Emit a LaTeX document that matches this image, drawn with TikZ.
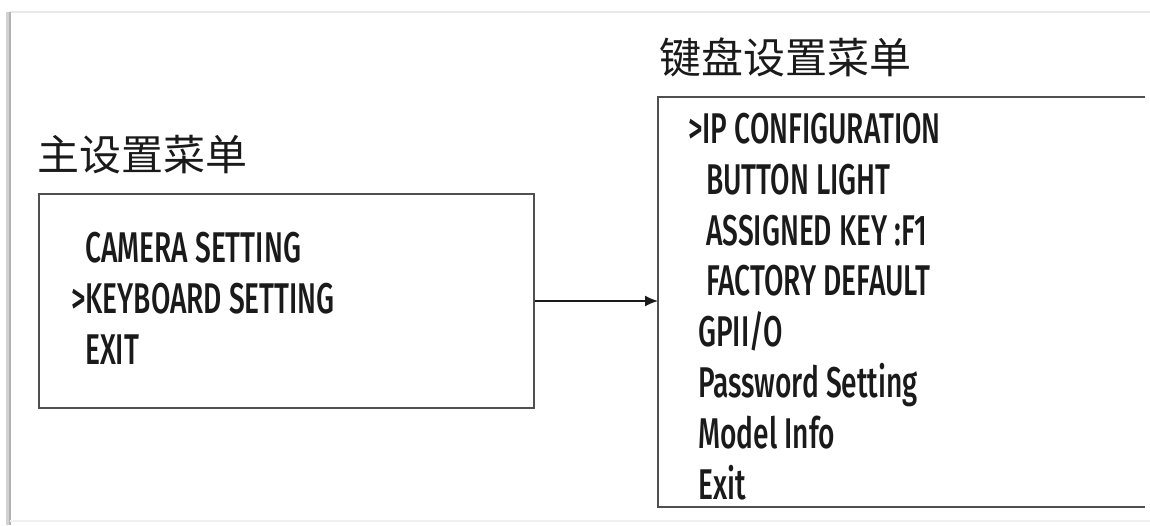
\documentclass[tikz,border=0pt]{standalone}
\usepackage{fontspec}
\usetikzlibrary{arrows.meta}
\setmainfont[FakeStretch=0.655]{Fira Sans Medium}
\newfontfamily\cjkfont{Noto Sans CJK SC}
\definecolor{ink}{HTML}{1A1A1A}
\definecolor{boxline}{HTML}{505050}
\tikzset{
  item/.style={anchor=base west, inner sep=0pt, text=ink, font=\fontsize{43}{43}\selectfont},
  title/.style={anchor=base west, inner sep=0pt, text=ink, font=\cjkfont\fontsize{42}{42}\selectfont},
  menubox/.style={draw=boxline, line width=2pt, inner sep=0pt},
  link/.style={draw=ink, line width=1.5pt, -{Latex[length=13pt,width=11pt]}},
}
\begin{document}
\begin{tikzpicture}[x=1pt,y=-1pt]
\useasboundingbox (0,0) rectangle (1150,525);
% outer frame
\draw[gray!18, line width=1.5pt] (10,12) -- (1150,12);
\draw[gray!35, line width=4pt] (8,12) -- (8,525);
\draw[gray!60, line width=1.5pt] (10,12) -- (10,525);
\draw[gray!12, line width=1.5pt] (10,521) -- (1150,521);
% titles
\node[title] (t1) at (37,170) {主设置菜单};
\node[title] (t2) at (659,73) {键盘设置菜单};
% left box
\node[menubox, minimum width=495pt, minimum height=214pt, anchor=north west] (mainbox) at (38,193) {};
\node[item] (m1) at (85,262) {CAMERA SETTING};
\node[item] (m2) at (71,313) {>KEYBOARD SETTING};
\node[item] (m3) at (85,364) {EXIT};
% right box (open on the right)
\node[inner sep=0pt, minimum width=487pt, minimum height=410pt, anchor=north west] (kbbox) at (658,97) {};
\draw[boxline, line width=2pt] (kbbox.north east) -- (kbbox.north west) -- (kbbox.south west) -- (kbbox.south east);
\node[item] (k1) at (688,143) {>IP CONFIGURATION};
\node[item] (k2) at (706,194) {BUTTON LIGHT};
\node[item] (k3) at (706,245) {ASSIGNED KEY :F1};
\node[item] (k4) at (706,295) {FACTORY DEFAULT};
\node[item] (k5) at (698,346) {GPII/O};
\node[item] (k6) at (698,397) {Password Setting};
\node[item] (k7) at (698,448) {Model Info};
\node[item] (k8) at (698,499) {Exit};
% connector
\draw[link] (mainbox.east) -- (mainbox.east -| kbbox.west);
\end{tikzpicture}
\end{document}
